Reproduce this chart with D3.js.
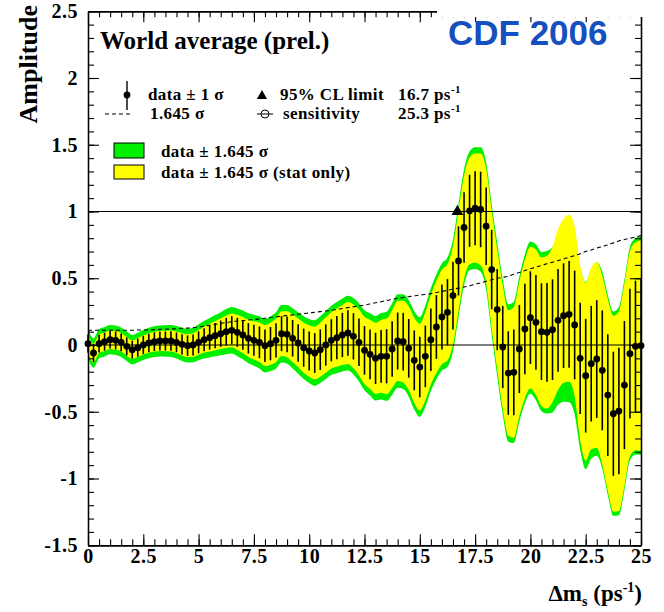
<!DOCTYPE html>
<html>
<head>
<meta charset="utf-8">
<script src="https://d3js.org/d3.v7.min.js"></script>
<style>
  body { margin: 0; background: #fff; }
  svg text { font-family: "Liberation Serif", "Times New Roman", serif; font-weight: bold; fill: #000; }
</style>
</head>
<body>
<div id="chart"></div>
<script>
// amplitude scan, one point every 0.25 ps^-1 from 0 to 25
const dms = d3.range(0, 101).map(i => i * 0.25);

const amp = [
  0.01, -0.06, 0.01, 0.025, 0.04, 0.035, 0.02, -0.01, -0.035, -0.02,
  0.0, 0.015, 0.025, 0.03, 0.03, 0.03, 0.02, 0.005, -0.005, 0.0,
  0.02, 0.04, 0.055, 0.07, 0.085, 0.1, 0.11, 0.095, 0.075, 0.05,
  0.035, 0.02, -0.005, 0.01, 0.035, 0.085, 0.08, 0.05, 0.015, -0.02,
  -0.045, -0.06, -0.035, 0.0, 0.035, 0.055, 0.075, 0.09, 0.065, 0.02,
  -0.04, -0.07, -0.10, -0.085, -0.085, -0.03, 0.03, 0.025, -0.025, -0.115,
  -0.165, -0.085, 0.04, 0.135, 0.21, 0.245, 0.37, 0.63, 0.88, 1.005,
  1.025, 1.015, 0.89, 0.565, 0.265, -0.015, -0.21, -0.205, -0.03, 0.12,
  0.205, 0.17, 0.10, 0.095, 0.115, 0.185, 0.22, 0.23, 0.15, -0.10,
  -0.23, -0.14, -0.105, -0.19, -0.375, -0.515, -0.495, -0.30, -0.065, -0.01,
  -0.005
];

// total 1 sigma (error bars)
const sigTot = [
  0.068, 0.067, 0.067, 0.067, 0.067, 0.067, 0.067, 0.067, 0.067, 0.068,
  0.068, 0.069, 0.070, 0.071, 0.072, 0.073, 0.074, 0.076, 0.077, 0.079,
  0.082, 0.086, 0.090, 0.094, 0.098, 0.103, 0.106, 0.109, 0.111, 0.114,
  0.116, 0.119, 0.122, 0.125, 0.128, 0.131, 0.134, 0.137, 0.140, 0.143,
  0.146, 0.149, 0.152, 0.155, 0.158, 0.162, 0.166, 0.170, 0.174, 0.178,
  0.182, 0.187, 0.192, 0.197, 0.203, 0.208, 0.213, 0.216, 0.220, 0.224,
  0.227, 0.231, 0.234, 0.239, 0.244, 0.249, 0.254, 0.259, 0.264, 0.270,
  0.277, 0.283, 0.290, 0.297, 0.304, 0.308, 0.313, 0.322, 0.330, 0.339,
  0.347, 0.355, 0.362, 0.370, 0.377, 0.385, 0.392, 0.400, 0.407, 0.416,
  0.426, 0.433, 0.441, 0.449, 0.456, 0.465, 0.474, 0.480, 0.486, 0.492,
  0.498
];

// statistical-only 1 sigma
const sigStat = [
  0.042, 0.042, 0.042, 0.042, 0.042, 0.042, 0.042, 0.042, 0.042, 0.043,
  0.043, 0.044, 0.045, 0.046, 0.047, 0.048, 0.049, 0.051, 0.052, 0.054,
  0.056, 0.059, 0.063, 0.066, 0.070, 0.074, 0.077, 0.080, 0.082, 0.085,
  0.087, 0.090, 0.093, 0.096, 0.099, 0.102, 0.105, 0.108, 0.111, 0.114,
  0.117, 0.120, 0.123, 0.126, 0.128, 0.133, 0.137, 0.141, 0.145, 0.150,
  0.153, 0.157, 0.162, 0.166, 0.172, 0.177, 0.182, 0.186, 0.190, 0.194,
  0.197, 0.201, 0.204, 0.210, 0.215, 0.220, 0.225, 0.230, 0.236, 0.243,
  0.249, 0.255, 0.261, 0.268, 0.274, 0.280, 0.286, 0.298, 0.306, 0.315,
  0.323, 0.331, 0.338, 0.347, 0.354, 0.366, 0.373, 0.380, 0.387, 0.396,
  0.405, 0.414, 0.422, 0.430, 0.437, 0.446, 0.455, 0.461, 0.467, 0.473,
  0.479
];

// centre offset of the stat-only band where it departs from the points
const statShift = [
  0, 0, 0, 0, 0, 0, 0, 0, 0, 0,
  0, 0, 0, 0, 0, 0, 0, 0, 0, 0,
  0, 0, 0, 0, 0, 0, 0, 0, 0, 0,
  0, 0, 0, 0, 0, 0, 0, 0, 0, 0,
  0, 0, 0, 0, 0, 0, 0, 0, 0, 0,
  0, 0, 0, 0, 0, 0, 0, 0, 0, 0,
  0, 0, 0, 0, 0, 0, 0, 0, 0, 0,
  0, 0, 0, 0, 0, 0, 0, 0, 0, 0,
  0, 0, 0, 0, 0.04, 0.08, 0.11, 0.12, 0.10, 0.04,
  0.03, 0.04, 0.03, 0, 0, 0, 0, 0, 0, 0,
  0
];

const xTicks = [0, 2.5, 5, 7.5, 10, 12.5, 15, 17.5, 20, 22.5, 25];
const yTicks = [-1.5, -1, -0.5, 0, 0.5, 1, 1.5, 2, 2.5];
const xMinor = d3.range(0, 51).map(i => i * 0.5);
const yMinor = d3.range(0, 41).map(i => -1.5 + i * 0.1);

const limitDm = 16.7, limitAmp = 1;
const k = 1.645;

const width = 664, height = 612;

const svg = d3.select("#chart").append("svg")
    .attr("width", width)
    .attr("height", height);

const x = d3.scaleLinear().domain([0, 25]).range([88, 641]);
const y = d3.scaleLinear().domain([-1.5, 2.5]).range([545.25, 11.25]);

const pts = dms.map((d, i) => ({
  dm: d, a: amp[i], s: sigTot[i], st: sigStat[i], sh: statShift[i]
}));

// bands
const green = d3.area()
    .x(d => x(d.dm))
    .y0(d => y(d.a - k * d.s))
    .y1(d => y(d.a + k * d.s))
    .curve(d3.curveMonotoneX);

const yellow = d3.area()
    .x(d => x(d.dm))
    .y0(d => y(d.a + d.sh - k * d.st))
    .y1(d => y(d.a + d.sh + k * d.st))
    .curve(d3.curveMonotoneX);

svg.append("path").datum(pts).attr("d", green).attr("fill", "#00ee00");
svg.append("path").datum(pts).attr("d", yellow).attr("fill", "#ffff00");

// error bars
svg.append("g")
  .selectAll("line")
  .data(pts)
  .enter().append("line")
    .attr("x1", d => x(d.dm))
    .attr("x2", d => x(d.dm))
    .attr("y1", d => y(d.a - d.s))
    .attr("y2", d => y(d.a + d.s))
    .attr("stroke", "#000")
    .attr("stroke-width", 1.6);

// reference lines at 0 and 1
[0, 1].forEach(v => {
  svg.append("line")
    .attr("x1", x(0)).attr("x2", x(25))
    .attr("y1", y(v)).attr("y2", y(v))
    .attr("stroke", "#000").attr("stroke-width", 1.2);
});

// 1.645 sigma sensitivity line
svg.append("path")
  .datum(pts)
  .attr("d", d3.line().x(d => x(d.dm)).y(d => y(k * d.s)).curve(d3.curveMonotoneX))
  .attr("fill", "none")
  .attr("stroke", "#000")
  .attr("stroke-width", 1.1)
  .attr("stroke-dasharray", "4,3");

// points
svg.append("g")
  .selectAll("circle")
  .data(pts)
  .enter().append("circle")
    .attr("cx", d => x(d.dm))
    .attr("cy", d => y(d.a))
    .attr("r", 3.4)
    .attr("fill", "#000");

// 95% CL limit marker
svg.append("path")
  .attr("d", d3.symbol(d3.symbolTriangle, 60))
  .attr("transform", `translate(${x(limitDm)},${y(limitAmp)})`)
  .attr("fill", "#000");

// axes: ticks inside the frame, ROOT style
function styleAxis(g) {
  g.selectAll("path.domain").attr("stroke", "#000").attr("stroke-width", 1.3);
  g.selectAll(".tick line").attr("stroke", "#000").attr("stroke-width", 1.1);
  g.selectAll("text").attr("font-family", null).attr("font-size", null);
  g.attr("font-family", null).attr("font-size", null);
}

const fmt = d => String(d);

svg.append("g")
    .attr("transform", `translate(0,${y(-1.5)})`)
    .call(d3.axisBottom(x).tickValues(xMinor).tickSize(-6).tickSizeOuter(0).tickFormat(""))
    .call(styleAxis);
svg.append("g")
    .attr("transform", `translate(0,${y(-1.5)})`)
    .call(d3.axisBottom(x).tickValues(xTicks).tickSize(-11).tickSizeOuter(0).tickPadding(4).tickFormat(fmt))
    .call(styleAxis)
    .selectAll("text").style("font-size", "20px").style("letter-spacing", "0.5px");

svg.append("g")
    .attr("transform", `translate(0,${y(2.5)})`)
    .call(d3.axisTop(x).tickValues(xMinor).tickSize(-6).tickSizeOuter(0).tickFormat(""))
    .call(styleAxis);
svg.append("g")
    .attr("transform", `translate(0,${y(2.5)})`)
    .call(d3.axisTop(x).tickValues(xTicks).tickSize(-11).tickSizeOuter(0).tickFormat(""))
    .call(styleAxis);

svg.append("g")
    .attr("transform", `translate(${x(0)},0)`)
    .call(d3.axisLeft(y).tickValues(yMinor).tickSize(-6).tickSizeOuter(0).tickFormat(""))
    .call(styleAxis);
svg.append("g")
    .attr("transform", `translate(${x(0)},0)`)
    .call(d3.axisLeft(y).tickValues(yTicks).tickSize(-11).tickSizeOuter(0).tickPadding(10).tickFormat(fmt))
    .call(styleAxis)
    .selectAll("text").style("font-size", "20px").style("letter-spacing", "0.5px");

svg.append("g")
    .attr("transform", `translate(${x(25)},0)`)
    .call(d3.axisRight(y).tickValues(yMinor).tickSize(-6).tickSizeOuter(0).tickFormat(""))
    .call(styleAxis);
svg.append("g")
    .attr("transform", `translate(${x(25)},0)`)
    .call(d3.axisRight(y).tickValues(yTicks).tickSize(-11).tickSizeOuter(0).tickFormat(""))
    .call(styleAxis);

// axis titles
svg.append("text")
    .attr("transform", "translate(37,5) rotate(-90)")
    .attr("text-anchor", "end")
    .style("font-size", "26px")
    .text("Amplitude");

const xt = svg.append("text")
    .attr("x", 642).attr("y", 601)
    .attr("text-anchor", "end")
    .style("font-size", "23px");
xt.append("tspan").text("\u0394m");
xt.append("tspan").attr("dy", 5).style("font-size", "14px").text("s");
xt.append("tspan").attr("dy", -5).text(" (ps");
xt.append("tspan").attr("dy", -9).style("font-size", "14px").text("-1");
xt.append("tspan").attr("dy", 9).text(")");

// CDF label sits on a white box over the top-right corner of the frame
svg.append("rect")
    .attr("x", 437).attr("y", 0).attr("width", 206).attr("height", 17)
    .attr("fill", "#fff");
svg.append("text")
    .attr("x", 448).attr("y", 45)
    .style("font-family", "'Liberation Sans', Arial, sans-serif")
    .style("font-size", "35px")
    .style("fill", "#1650c0")
    .text("CDF 2006");

// legend
svg.append("text")
    .attr("x", 100).attr("y", 49)
    .style("font-size", "25px")
    .text("World average (prel.)");

const lg = svg.append("g").style("font-size", "17px").style("letter-spacing", "0.4px");

lg.append("line").attr("x1", 127).attr("x2", 127).attr("y1", 81).attr("y2", 110)
    .attr("stroke", "#000").attr("stroke-width", 1.4);
lg.append("circle").attr("cx", 127).attr("cy", 95).attr("r", 3.4).attr("fill", "#000");
lg.append("text").attr("x", 148).attr("y", 100).text("data \u00b1 1 \u03c3");

lg.append("path").attr("d", d3.symbol(d3.symbolTriangle, 45))
    .attr("transform", "translate(262,96)").attr("fill", "#000");
lg.append("text").attr("x", 280).attr("y", 100).text("95% CL limit");
const t1 = lg.append("text").attr("x", 398).attr("y", 100);
t1.append("tspan").text("16.7 ps");
t1.append("tspan").attr("dy", -7).style("font-size", "11px").text("-1");

lg.append("line").attr("x1", 105).attr("x2", 133).attr("y1", 114).attr("y2", 114)
    .attr("stroke", "#000").attr("stroke-width", 1.1).attr("stroke-dasharray", "4,3");
lg.append("text").attr("x", 150).attr("y", 119).text("1.645 \u03c3");

lg.append("line").attr("x1", 257).attr("x2", 273).attr("y1", 114).attr("y2", 114)
    .attr("stroke", "#000").attr("stroke-width", 1);
lg.append("circle").attr("cx", 265).attr("cy", 114).attr("r", 4)
    .attr("fill", "none").attr("stroke", "#000").attr("stroke-width", 1);
lg.append("text").attr("x", 283).attr("y", 119).text("sensitivity");
const t2 = lg.append("text").attr("x", 398).attr("y", 119);
t2.append("tspan").text("25.3 ps");
t2.append("tspan").attr("dy", -7).style("font-size", "11px").text("-1");

lg.append("rect").attr("x", 114).attr("y", 143).attr("width", 30).attr("height", 15)
    .attr("fill", "#00ee00").attr("stroke", "#000").attr("stroke-width", 1);
lg.append("text").attr("x", 161).attr("y", 157).text("data \u00b1 1.645 \u03c3");
lg.append("rect").attr("x", 114).attr("y", 165).attr("width", 30).attr("height", 14)
    .attr("fill", "#ffff00").attr("stroke", "#000").attr("stroke-width", 1);
lg.append("text").attr("x", 161).attr("y", 178).text("data \u00b1 1.645 \u03c3 (stat only)");
</script>
</body>
</html>
